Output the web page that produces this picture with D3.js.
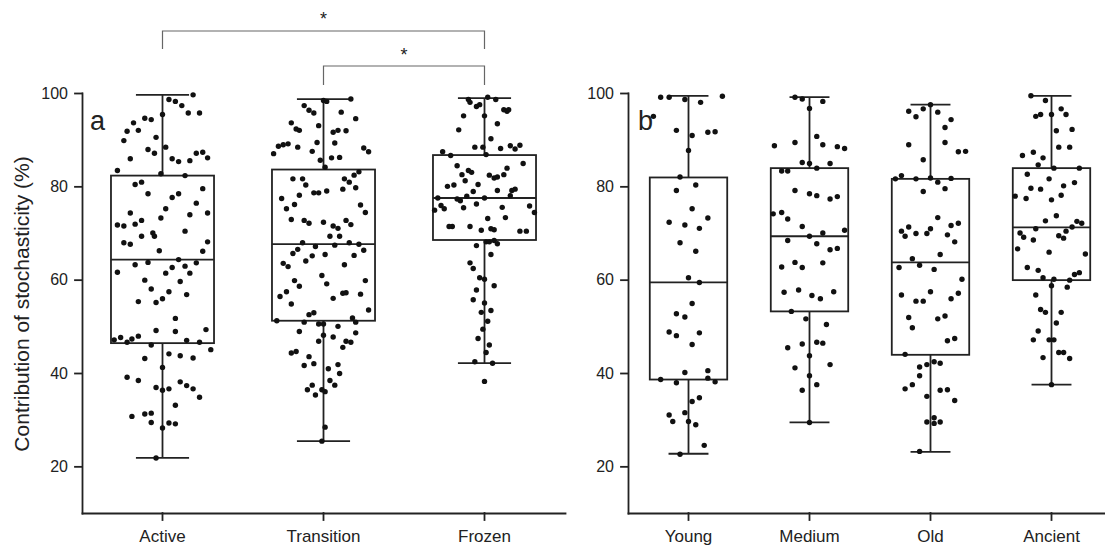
<!DOCTYPE html>
<html>
<head>
<meta charset="utf-8">
<script src="https://cdn.jsdelivr.net/npm/d3@7"></script>
<style>
  body { margin: 0; background: #fff; }
  text { font-family: Arial, "Liberation Sans", sans-serif; fill: #222; }
</style>
</head>
<body>
<div id="chart"></div>
<script>
// categories
var catsA = ["Active", "Transition", "Frozen"];
var catsB = ["Young", "Medium", "Old", "Ancient"];
var yTicks = [20, 40, 60, 80, 100];

// box stats: lower whisker, q1, median, q3, upper whisker
var lowA = [21.8, 25.4, 42.1], q1A = [46.4, 51.2, 68.5], medA = [64.3, 67.6, 77.5], q3A = [82.3, 83.6, 86.7], highA = [99.6, 98.7, 98.9];
var lowB = [22.7, 29.4, 23.1, 37.5], q1B = [38.6, 53.2, 43.9, 59.9], medB = [59.4, 69.3, 63.7, 71.2], q3B = [81.9, 83.9, 81.6, 83.9], highB = [99.4, 99.1, 97.5, 99.4];

// points: [value, jitter (fraction of band)]
var activePts = [[99.6,0.19],[98.6,0.04],[98.2,0.08],[97.3,0.12],[95.7,0.16],[95.7,0.23],[95.4,0],[94.6,-0.11],[94.3,-0.07],[93.6,-0.18],
  [91.8,-0.22],[92.0,-0.15],[89.8,-0.24],[90.5,-0.04],[87.9,-0.09],[87.1,-0.05],[88.4,0.02],[85.9,-0.2],[85.9,0.06],[85.3,0.1],
  [85.5,0.17],[87.1,0.21],[87.3,0.25],[86.1,0.28],[83.4,-0.28],[82.7,-0.01],[82.3,0.14],[80.4,-0.17],[80.9,-0.13],[78.4,-0.09],
  [77.6,0.06],[78.4,0.1],[79.5,0.25],[76.4,0.21],[75.2,0.02],[74.3,-0.2],[73.9,0.17],[74.3,0.28],[73.2,-0.01],[72.7,-0.13],
  [71.9,-0.17],[71.7,-0.28],[71.5,-0.24],[69.3,-0.13],[70.0,-0.06],[69.3,-0.05],[70.4,0.14],[67.9,-0.24],[67.6,-0.2],[68.1,0.28],
  [66.2,-0.02],[66.1,0.25],[64.3,0.1],[63.6,0.21],[63.7,-0.09],[63.2,-0.17],[61.6,-0.28],[62.6,0.06],[61.4,0.02],[62.9,0.14],
  [61.4,0.17],[59.9,-0.11],[59.6,0.11],[58.0,-0.07],[57.4,0.04],[56.8,0.15],[55.9,0],[55.1,-0.04],[55.3,-0.15],[51.7,0.08],
  [49.1,-0.04],[48.9,0.08],[49.3,0.27],[47.1,-0.3],[47.6,-0.26],[46.6,-0.22],[47.3,-0.19],[47.9,-0.15],[47.0,0.15],[46.6,0.23],
  [46.0,-0.07],[44.1,0.04],[43.7,0.11],[43.2,0.19],[45.0,0.3],[43.1,-0.11],[41.2,0],[39.1,-0.22],[38.4,-0.15],[38.1,0.11],
  [37.3,0.15],[36.6,0.19],[36.9,-0.04],[36.3,0],[36.6,0.04],[34.8,0.23],[33.1,0.08],[30.7,-0.19],[31.2,-0.11],[31.4,-0.07],
  [29.4,-0.07],[29.3,0.04],[29.1,0.08],[28.2,0],[21.8,-0.04]];

var transitionPts = [[98.4,0],[98.2,0.02],[98.7,0.17],[97.3,-0.12],[96.3,-0.09],[95.7,-0.06],[95.9,0.11],[94.5,0.2],[93.6,-0.2],[92.3,-0.17],
  [92.0,-0.15],[93.0,-0.03],[91.6,0.06],[92.0,0.09],[91.9,0.14],[87.0,-0.31],[88.6,-0.28],[88.9,-0.25],[89.1,-0.22],[88.4,-0.16],
  [87.5,-0.07],[89.4,-0.04],[89.3,0.07],[88.2,0.25],[87.4,0.28],[85.6,-0.02],[86.1,0.05],[86.2,0.1],[84.1,0.01],[81.6,-0.19],
  [81.6,-0.13],[80.3,-0.11],[78.6,-0.06],[78.6,-0.03],[79.0,0.02],[81.6,0.13],[80.9,0.16],[82.4,0.19],[83.1,0.22],[79.7,0.2],
  [79.4,0.12],[77.4,-0.26],[75.2,-0.23],[76.1,-0.18],[78.1,-0.15],[76.0,0.23],[74.4,0.26],[72.9,-0.2],[72.7,-0.12],[72.1,-0.09],
  [72.3,0],[71.5,0.06],[71.0,0.09],[72.7,0.14],[71.8,0.17],[69.3,0.04],[69.3,0.1],[67.9,-0.13],[67.1,-0.05],[67.4,0.07],
  [67.9,0.16],[67.6,0.22],[66.3,0.25],[66.5,-0.16],[65.6,-0.19],[65.1,-0.07],[64.0,-0.11],[65.4,0.01],[65.2,0.19],[63.5,-0.25],
  [62.8,-0.22],[63.2,0.13],[60.9,-0.01],[59.1,0.02],[59.8,-0.18],[58.6,-0.15],[59.8,0.26],[56.4,-0.27],[57.4,-0.23],[54.8,-0.2],
  [56.0,0.06],[57.1,0.12],[57.2,0.14],[56.9,0.23],[53.5,0.28],[52.5,-0.09],[52.9,-0.06],[51.2,-0.29],[50.9,-0.12],[50.5,-0.03],
  [50.5,0],[51.8,0.18],[50.9,0.2],[48.9,-0.15],[50.0,0.09],[48.1,0],[47.7,0.06],[48.6,0.2],[46.8,-0.03],[46.8,0.14],
  [46.6,0.17],[44.3,-0.2],[44.6,-0.17],[45.5,0.12],[43.5,-0.09],[41.6,-0.12],[42.0,-0.06],[40.9,0.03],[41.8,0.09],[39.9,0.1],
  [38.4,0.04],[37.4,0.07],[36.4,-0.1],[37.4,-0.07],[36.4,-0.01],[36.0,0.01],[35.3,-0.05],[28.4,0.01],[25.4,-0.01]];

var frozenPts = [[99.1,0.02],[98.6,-0.1],[98.0,-0.09],[97.1,-0.05],[97.5,-0.03],[98.6,0.07],[96.4,0.12],[96.1,0.14],[96.4,0.15],[95.1,-0.13],
  [95.1,0],[93.4,0.08],[92.1,-0.16],[90.2,0.04],[88.4,-0.06],[88.4,-0.01],[88.1,0.1],[88.7,0.16],[88.0,0.19],[87.4,-0.26],
  [86.6,-0.21],[86.8,0.01],[84.4,-0.17],[82.5,-0.14],[83.4,-0.1],[83.0,-0.08],[82.4,0.03],[81.8,0.06],[82.0,0.08],[82.5,0.12],
  [83.9,0.14],[80.0,-0.23],[80.3,-0.19],[81.2,-0.12],[80.4,-0.04],[78.9,-0.07],[79.1,0.08],[79.1,0.17],[79.4,0.19],[77.5,-0.29],
  [77.3,-0.17],[76.9,-0.15],[77.9,-0.11],[77.5,0],[78.0,0.16],[74.9,-0.31],[75.9,-0.27],[75.2,-0.25],[75.4,-0.13],[76.2,-0.05],
  [75.5,0.11],[73.1,0.02],[73.3,0.13],[71.4,-0.22],[71.4,-0.2],[71.4,-0.09],[70.6,-0.02],[70.9,0.04],[70.7,0.06],[68.1,0.01],
  [68.1,0.03],[68.4,0.06],[67.7,0.08],[67.3,-0.05],[65.4,0.04],[63.6,-0.09],[62.4,-0.07],[60.4,-0.03],[60.1,0],[58.7,0.06],
  [57.8,-0.05],[55.7,-0.07],[55.0,0],[53.0,-0.02],[53.4,0.04],[51.1,0.02],[49.4,-0.01],[47.4,-0.04],[46.0,0.03],[44.4,0.01],
  [42.4,-0.06],[42.1,0.05],[38.2,0],[88.8,0.22],[84.9,0.24],[75.8,0.28],[74.4,0.31],[70.4,0.22],[70.4,0.26]];

var youngPts = [[99.1,-0.23],[99.1,-0.16],[98.6,-0.03],[98.0,0.1],[99.3,0.28],[95.0,-0.29],[92.0,-0.1],[90.9,0.03],[91.6,0.16],[91.7,0.22],
  [87.7,0],[82.0,-0.07],[79.1,-0.1],[80.3,0.06],[75.2,0.03],[73.2,0.16],[72.3,-0.16],[71.7,-0.03],[71.0,0.09],[67.9,-0.07],
  [66.1,0.06],[60.4,0],[59.4,0.09],[54.9,0.03],[52.7,-0.1],[52.0,-0.03],[48.8,-0.16],[48.0,-0.1],[48.6,0.09],[46.1,0.03],
  [40.1,-0.03],[40.5,0.16],[38.9,0.16],[38.6,-0.23],[37.9,-0.1],[38.1,0.22],[33.9,0.03],[34.7,0.09],[31.0,-0.16],[31.5,-0.03],
  [29.6,-0.13],[29.6,0],[28.9,0.06],[24.5,0.13],[22.6,-0.07]];

var mediumPts = [[99.1,-0.12],[98.7,-0.06],[98.2,0.11],[96.7,0],[90.7,0.06],[89.4,-0.12],[88.9,0.11],[88.7,-0.29],[88.5,0.23],[88.1,0.29],
  [85.1,-0.06],[84.9,0],[84.9,0.17],[83.9,0.06],[83.3,-0.23],[83.3,-0.18],[79.1,-0.12],[78.4,0],[78.0,0.06],[77.3,0.17],
  [77.8,0.23],[74.1,-0.3],[74.4,-0.23],[73.0,-0.18],[71.4,-0.06],[70.6,0.29],[70.0,0.11],[69.3,0],[68.4,-0.18],[67.7,0.06],
  [66.4,0.17],[66.7,0.23],[62.7,-0.23],[63.7,-0.12],[62.6,-0.06],[63.6,0.11],[57.3,-0.21],[57.8,-0.09],[56.6,0.02],[55.9,0.09],
  [57.4,0.2],[53.2,-0.15],[51.6,-0.03],[50.4,0.14],[45.4,-0.18],[46.2,-0.06],[46.6,0.06],[46.4,0.11],[43.7,0],[41.1,-0.12],
  [41.8,0.17],[39.4,0],[37.5,0.06],[36.3,-0.06],[29.4,0]];

var oldPts = [[97.5,0],[96.1,-0.18],[94.9,-0.12],[96.6,-0.06],[95.9,0.06],[94.3,0.17],[92.6,0.12],[88.9,-0.18],[89.4,0.12],[85.7,-0.06],
  [87.4,0.23],[87.5,0.29],[81.6,-0.29],[82.3,-0.24],[81.6,-0.12],[81.8,0],[80.9,0.06],[81.7,0.17],[79.5,0.12],[78.9,-0.06],
  [73.3,0.06],[70.4,-0.24],[71.3,-0.18],[69.3,-0.21],[69.9,-0.12],[69.9,-0.03],[70.9,0],[71.6,0.17],[72.1,0.23],[69.6,0.14],
  [68.1,0.2],[65.4,0.08],[64.5,-0.15],[62.6,-0.26],[63.1,-0.09],[62.2,0.03],[60.1,0.26],[56.7,-0.24],[55.4,-0.12],[55.4,-0.06],
  [57.4,0],[55.9,0.17],[57.1,0.23],[51.9,-0.18],[49.7,-0.15],[51.6,0.06],[52.2,0.12],[46.9,0.14],[47.4,0.2],[44.0,-0.21],
  [41.3,-0.09],[41.8,-0.03],[42.4,0.03],[42.1,0.08],[39.4,-0.09],[36.6,-0.21],[37.5,-0.15],[35.0,-0.03],[36.3,0.08],[36.4,0.14],
  [34.1,0.2],[29.5,-0.03],[30.4,0.03],[29.2,0.03],[29.5,0.08],[23.2,-0.09]];

var ancientPts = [[99.4,-0.17],[98.4,-0.05],[95.0,-0.13],[95.4,-0.09],[95.4,0],[96.6,0.08],[95.4,0.12],[91.9,0.04],[92.2,0.17],[88.4,0.06],
  [88.4,0.15],[86.6,-0.24],[87.3,-0.15],[86.1,-0.07],[84.6,-0.11],[83.9,0.02],[83.9,0.23],[82.6,-0.2],[81.6,-0.02],[80.8,0.19],
  [80.1,0.1],[79.6,-0.17],[79.4,-0.09],[77.9,-0.3],[77.4,-0.21],[77.1,0],[78.1,0.08],[73.7,0.04],[72.6,-0.05],[72.5,0.21],
  [72.1,0.25],[71.3,0.17],[70.4,0.12],[70.9,-0.13],[70.0,-0.26],[69.1,-0.23],[68.5,-0.15],[69.4,0.06],[68.9,0.1],[66.6,-0.28],
  [65.9,-0.02],[65.5,0.28],[62.6,-0.2],[62.0,-0.11],[60.4,-0.07],[60.1,0.02],[59.9,0.15],[61.1,0.19],[61.5,0.23],[58.4,0.13],
  [58.7,0],[56.7,-0.13],[53.6,-0.09],[53.0,-0.05],[53.0,0.08],[50.7,0.04],[49.0,-0.11],[47.1,-0.15],[47.1,-0.02],[47.1,0.02],
  [44.4,0.06],[44.4,0.1],[43.1,0.15],[43.3,-0.07],[37.5,0]];

var width = 1105, height = 549;
var svg = d3.select("#chart").append("svg")
  .attr("width", width)
  .attr("height", height);

var y = d3.scaleLinear().domain([10, 100]).range([513, 93]);

function drawPanel(cats, low, q1, med, q3, high, pts, x0, x1, letter, lx) {
  var x = d3.scaleBand().domain(cats).range([x0, x1]);
  var bw = x.bandwidth();
  var g = svg.append("g");

  var ya = g.append("g")
    .attr("transform", "translate(" + x0 + ",0)")
    .call(d3.axisLeft(y).tickValues(yTicks).tickSize(7).tickSizeOuter(0).tickPadding(7));
  var xa = g.append("g")
    .attr("transform", "translate(0," + y.range()[0] + ")")
    .call(d3.axisBottom(x).tickSize(7).tickSizeOuter(0).tickPadding(10));
  [ya, xa].forEach(function(a) {
    a.selectAll("path, line").attr("stroke", "#222").attr("stroke-width", 1.8).attr("stroke-linecap", "square");
    a.selectAll("text").attr("fill", "#222").style("font-family", "Arial, 'Liberation Sans', sans-serif");
  });
  ya.selectAll("text").style("font-size", "16px");
  xa.selectAll("text").style("font-size", "17px");

  var boxes = g.selectAll(".box").data(cats).enter().append("g");
  boxes.each(function(c, i) {
    var b = d3.select(this);
    var cx = x(c) + bw / 2, hw = bw * 0.32, cw = bw * 0.165;
    var st = {stroke: "#222", "stroke-width": 1.8, fill: "none"};
    function ln(xa1, ya1, xa2, ya2) {
      var l = b.append("line").attr("x1", xa1).attr("y1", ya1).attr("x2", xa2).attr("y2", ya2);
      for (var k in st) l.attr(k, st[k]);
    }
    ln(cx, y(high[i]), cx, y(q3[i]));
    ln(cx, y(q1[i]), cx, y(low[i]));
    ln(cx - cw, y(high[i]), cx + cw, y(high[i]));
    ln(cx - cw, y(low[i]), cx + cw, y(low[i]));
    var r = b.append("rect").attr("x", cx - hw).attr("width", hw * 2)
      .attr("y", y(q3[i])).attr("height", y(q1[i]) - y(q3[i]));
    for (var k in st) r.attr(k, st[k]);
    ln(cx - hw, y(med[i]), cx + hw, y(med[i]));
  });

  cats.forEach(function(c, i) {
    g.append("g").selectAll("circle")
      .data(pts[i])
      .enter()
      .append("circle")
      .attr("cx", function(d) { return x(c) + bw / 2 + d[1] * bw; })
      .attr("cy", function(d) { return y(d[0]); })
      .attr("r", 2.7)
      .attr("fill", "#111");
  });

  g.append("text").attr("x", lx).attr("y", 130).style("font-size", "27px").text(letter);
  return x;
}

var xA = drawPanel(catsA, lowA, q1A, medA, q3A, highA, [activePts, transitionPts, frozenPts], 82, 565, "a", 90);
drawPanel(catsB, lowB, q1B, medB, q3B, highB, [youngPts, mediumPts, oldPts, ancientPts], 628, 1112, "b", 638);

// y axis title
svg.append("text")
  .attr("transform", "translate(29,304) rotate(-90)")
  .attr("text-anchor", "middle")
  .style("font-size", "21px")
  .text("Contribution of stochasticity (%)");

// significance brackets
function bracket(c1, c2, yTop, yBot, starY) {
  var a = xA(c1) + xA.bandwidth() / 2, b = xA(c2) + xA.bandwidth() / 2;
  svg.append("path")
    .attr("d", "M" + a + "," + yBot + "V" + yTop + "H" + b + "V" + yBot)
    .attr("fill", "none")
    .attr("stroke", "#666")
    .attr("stroke-width", 1.2);
  svg.append("text")
    .attr("x", (a + b) / 2)
    .attr("y", starY)
    .attr("text-anchor", "middle")
    .style("font-size", "18px")
    .text("*");
}
bracket("Active", "Frozen", 31, 49, 25);
bracket("Transition", "Frozen", 66, 85, 61);
</script>
</body>
</html>
